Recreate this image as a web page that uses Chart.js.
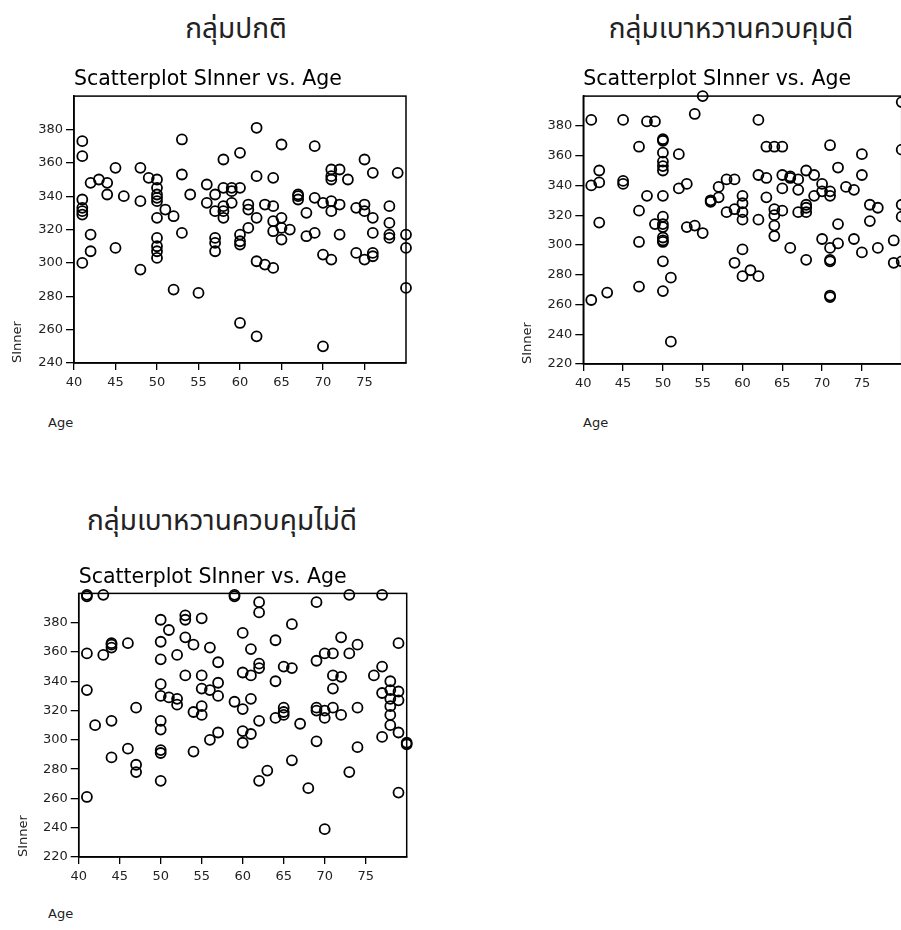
<!DOCTYPE html>
<html>
<head>
<meta charset="utf-8">
<script src="https://cdn.jsdelivr.net/npm/chart.js@4.4.0/dist/chart.umd.min.js"></script>
<style>
  html, body { margin: 0; padding: 0; background: #fff; }
  body { width: 901px; height: 930px; overflow: hidden; position: relative; }
  .box { position: absolute; }
  .head {
    position: absolute; white-space: nowrap; color: #222; font-size: 28px;
    font-family: "Noto Sans Thai", "Noto Sans Thai UI", "Loma", "Garuda", "Norasi", "Noto Sans", sans-serif;
    transform: translateX(-50%);
  }
  .age { position: absolute; font: 13px "DejaVu Sans", sans-serif; color: #222; }
</style>
</head>
<body>
<div class="head" style="left:236px; top:8px">กลุ่มปกติ</div>
<div class="head" style="left:731px; top:8px">กลุ่มเบาหวานควบคุมดี</div>
<div class="head" style="left:222px; top:500px">กลุ่มเบาหวานควบคุมไม่ดี</div>

<div class="box" style="left:0; top:56px; width:420px; height:339px"><canvas id="c1"></canvas></div>
<div class="box" style="left:500px; top:56px; width:420px; height:340px"><canvas id="c2"></canvas></div>
<div class="box" style="left:0; top:548px; width:420px; height:341px"><canvas id="c3"></canvas></div>

<div class="age" style="left:48px; top:415px">Age</div>
<div class="age" style="left:583px; top:415px">Age</div>
<div class="age" style="left:48px; top:906px">Age</div>

<script>
const normalAge = [
  41,41,41,41,41,41,41,
  42,42,42, 43, 44,44, 45,45, 46,
  48,48,48, 49,
  50,50,50,50,50,50,50,50,50,50,
  51, 52,52, 53,53,53, 54, 55, 56,56,
  57,57,57,57,57, 58,58,58,58,58, 59,59,59,
  60,60,60,60,60,60, 61,61,61, 62,62,62,62,62, 63,63,
  64,64,64,64,64, 65,65,65,65, 66, 67,67,67, 68,68, 69,69,69,
  70,70,70, 71,71,71,71,71,71, 72,72,72, 73, 74,74,
  75,75,75,75, 76,76,76,76,76, 78,78,78,78, 79, 80,80,80
];
const normalSInner = [
  373,364,338,333,331,329,300,
  348,317,307, 350, 348,341, 357,309, 340,
  357,337,296, 351,
  350,345,341,339,337,327,315,310,307,303,
  332, 328,284, 374,353,318, 341, 282, 347,336,
  341,331,315,312,307, 362,345,334,331,327, 345,343,336,
  366,345,317,313,311,264, 335,332,321, 381,352,327,301,256, 335,299,
  351,334,325,319,297, 371,327,321,314, 320, 341,340,338, 330,316, 370,339,318,
  336,305,250, 356,352,350,337,331,302, 356,335,317, 350, 333,306,
  362,335,331,302, 354,327,318,306,304, 334,324,317,315, 354, 317,309,285
];

const goodAge = [
  41,41,41, 42,42,42, 43, 45,45,45, 47,47,47,47, 48,48, 49,49,
  50,50,50,50,50,50,50,50,50,50,50,50,50,50,50,
  51,51, 52,52, 53,53, 54,54, 55,55, 56,56, 57,57, 58,58, 59,59,59,
  60,60,60,60,60,60, 61, 62,62,62,62, 63,63,63, 64,64,64,64,64,
  65,65,65,65, 66,66,66, 67,67,67, 68,68,68,68,68, 69,69, 70,70,70,
  71,71,71,71,71,71,71,71, 72,72,72, 73, 74,74, 75,75,75,
  76,76, 77,77, 79,79, 80,80,80,80,80
];
const goodSInner = [
  384,340,263, 350,342,315, 268, 384,343,341, 366,323,302,272, 383,333, 383,314,
  371,370,362,356,353,350,333,319,314,312,305,303,302,289,269,
  278,235, 361,338, 341,312, 388,313, 400,308, 330,329, 339,332, 344,322, 344,324,288,
  333,328,322,317,297,279, 283, 384,347,317,279, 366,345,332, 366,324,320,313,306,
  366,347,338,323, 346,345,298, 344,337,322, 350,327,325,322,290, 347,333, 341,336,304,
  367,336,333,298,290,289,266,265, 352,314,301, 339, 337,304, 361,347,295,
  327,316, 325,298, 303,288, 396,364,327,319,289
];

const poorAge = [
  41,41,41,41,41, 42, 43,43, 44,44,44,44,44, 46,46, 47,47,47,
  50,50,50,50,50,50,50,50,50,50,
  51,51, 52,52,52, 53,53,53,53, 54,54,54, 55,55,55,55,55,
  56,56,56, 57,57,57,57, 59,59,59, 60,60,60,60,60, 61,61,61,61,
  62,62,62,62,62,62, 63, 64,64,64, 65,65,65,65, 66,66,66, 67, 68,
  69,69,69,69,69, 70,70,70,70, 71,71,71,71, 72,72,72, 73,73,73,
  74,74,74, 76, 77,77,77,77, 78,78,78,78,78,78, 79,79,79,79,79, 80,80
];
const poorSInner = [
  399,398,359,334,261, 310, 399,358, 366,365,363,313,288, 366,294, 322,283,278,
  382,367,355,338,330,313,307,293,291,272,
  375,329, 358,328,324, 385,382,370,344, 365,319,292, 383,344,335,323,317,
  363,334,300, 353,339,330,305, 399,398,326, 373,346,321,306,298, 362,344,328,304,
  394,387,352,349,313,272, 279, 368,340,315, 350,322,319,317, 379,349,286, 311, 267,
  394,354,322,320,299, 359,320,315,239, 359,344,335,322, 370,343,317, 399,359,278,
  365,322,295, 344, 399,350,332,302, 340,334,328,323,317,310, 366,333,327,305,264, 298,297
];

const ageTicks = [40, 45, 50, 55, 60, 65, 70, 75];
const sinnerTicks1 = [240, 260, 280, 300, 320, 340, 360, 380];
const sinnerTicks2 = [220, 240, 260, 280, 300, 320, 340, 360, 380];
const plotTitle = "Scatterplot SInner vs. Age";

const frame = {
  id: "frame",
  beforeDatasetsDraw(chart) {
    const { ctx, chartArea: a } = chart;
    ctx.save();
    ctx.strokeStyle = "#000";
    ctx.lineWidth = 1.5;
    ctx.strokeRect(a.left, a.top, a.right - a.left, a.bottom - a.top);
    ctx.restore();
  }
};

function makeChart(id, ages, vals, yMin, yTicks, g) {
  const tickFont = { family: "DejaVu Sans", size: 13 };
  return new Chart(document.getElementById(id), {
    type: "scatter",
    data: {
      datasets: [{
        data: ages.map((a, i) => ({ x: a, y: vals[i] })),
        pointStyle: "circle",
        pointRadius: 5,
        pointHoverRadius: 5,
        pointBorderWidth: 1.8,
        borderColor: "#000",
        backgroundColor: "rgba(0,0,0,0)",
        clip: false
      }]
    },
    options: {
      responsive: true,
      maintainAspectRatio: false,
      animation: false,
      events: [],
      layout: { padding: { top: g.padTop, right: g.padRight, left: 0, bottom: 0 } },
      plugins: {
        legend: { display: false },
        tooltip: { enabled: false },
        title: {
          display: true,
          text: plotTitle,
          align: "start",
          fullSize: false,
          color: "#000",
          font: { family: "DejaVu Sans", size: 20.5, weight: "normal", lineHeight: 1.2 },
          padding: { top: 0, bottom: g.titleGap }
        }
      },
      scales: {
        x: {
          type: "linear",
          min: 40, max: 80,
          afterBuildTicks: s => { s.ticks = ageTicks.map(v => ({ value: v })); },
          afterFit: s => { s.height = 32; },
          ticks: { color: "#222", font: tickFont, padding: 5, autoSkip: false, maxRotation: 0 },
          grid: { drawOnChartArea: false, tickLength: 7, color: "#000", lineWidth: 1.3 },
          border: { display: true, color: "#000", width: 1.5 }
        },
        y: {
          type: "linear",
          min: yMin, max: 400,
          afterBuildTicks: s => { s.ticks = yTicks.map(v => ({ value: v })); },
          afterFit: s => { s.width = g.yWidth; },
          ticks: { color: "#222", font: tickFont, padding: 3, autoSkip: false },
          grid: { drawOnChartArea: false, tickLength: 8, color: "#000", lineWidth: 1.3 },
          border: { display: true, color: "#000", width: 1.5 },
          title: {
            display: true, text: "SInner", align: "start", color: "#222",
            font: { family: "DejaVu Sans", size: 13, lineHeight: 1.2 },
            padding: { top: g.yTitlePad, bottom: 0 }
          }
        }
      }
    },
    plugins: [frame]
  });
}

makeChart("c1", normalAge, normalSInner, 240, sinnerTicks1,
  { yWidth: 74, padTop: 11.5, padRight: 14, titleGap: 4, yTitlePad: 10 });
makeChart("c2", goodAge, goodSInner, 220, sinnerTicks2,
  { yWidth: 83.3, padTop: 11.5, padRight: 18.3, titleGap: 4, yTitlePad: 20 });
makeChart("c3", poorAge, poorSInner, 220, sinnerTicks2,
  { yWidth: 78.7, padTop: 17, padRight: 13.3, titleGap: 3.8, yTitlePad: 16 });
</script>
</body>
</html>
